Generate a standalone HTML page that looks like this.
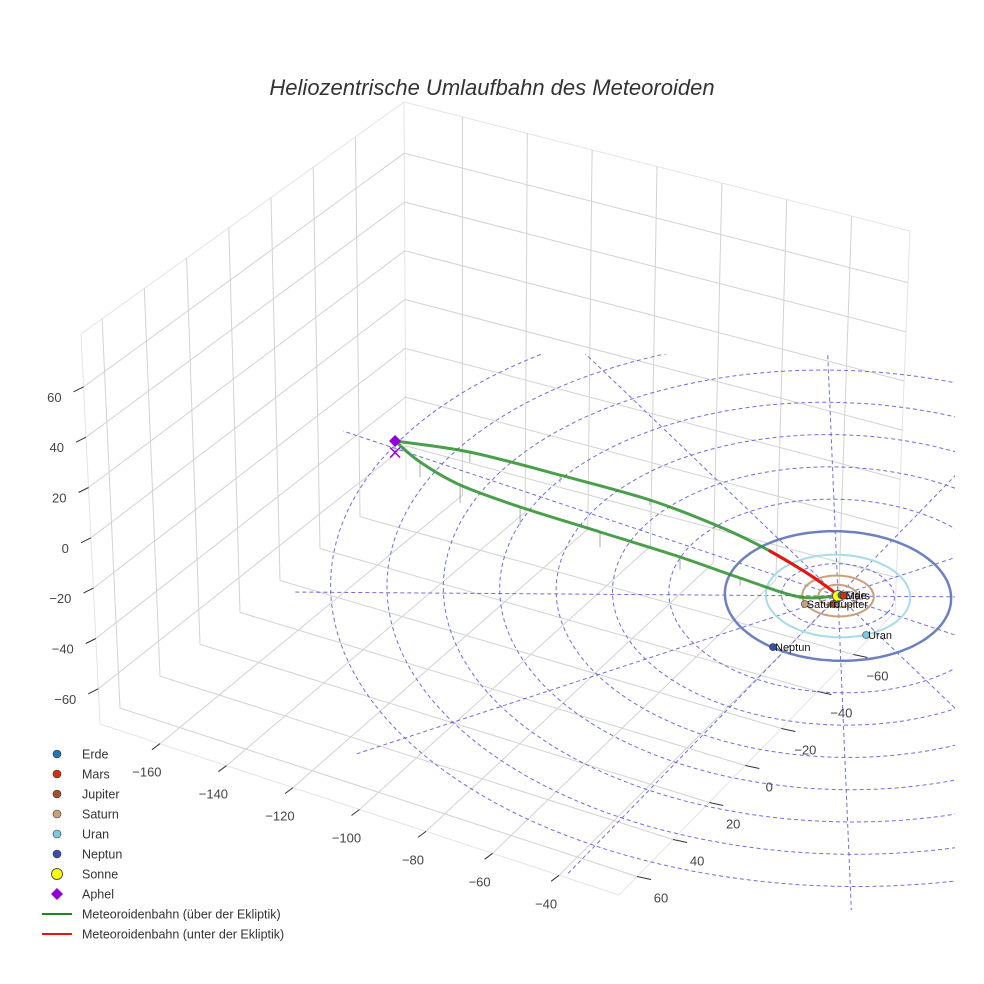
<!DOCTYPE html>
<html><head><meta charset="utf-8"><style>
body{margin:0;background:#fff}
svg{display:block;font-family:"Liberation Sans",Arial,sans-serif}
</style></head><body>
<svg id="chart" width="984" height="984" viewBox="0 0 984 984" xmlns="http://www.w3.org/2000/svg">
<rect width="984" height="984" fill="#fff"/>
<defs><clipPath id="ecl"><rect x="295" y="354" width="660" height="556"/></clipPath></defs>
<text x="492" y="95" text-anchor="middle" font-size="22" font-style="italic" fill="#333">Heliozentrische Umlaufbahn des Meteoroiden</text>
<g id="grid"></g>
<g id="axes"></g>
<g id="ecliptic" clip-path="url(#ecl)"></g>
<g id="data"></g>
<g id="legend"></g>
</svg>
<script>
// ---- data ----
const xTicks = [-160,-140,-120,-100,-80,-60,-40];
const yTicks = [-60,-40,-20,0,20,40,60];
const zTicks = [-60,-40,-20,0,20,40,60];
const xRange = [-178,-22];
const yRange = [-83,70];
const zRange = [-74,81];

const xUpper = [-133.3,-114.0,-88.8,-63.3,-41.8,-25.6,-11.7,0.5];
const yUpper = [1.7,-4.5,-8.4,-11.5,-11.1,-9.1,-5.8,-0.5];
const zUpper = [4.5,4,3,2,1,0,-1,-0.5];
const xLower = [-133.3,-122.1,-107.2,-88.6,-65.3,-42.0,-24.7,-7.9,0.5];
const yLower = [1.7,8.4,13.4,14.2,12.5,10.8,9.1,6.6,-0.5];
const zLower = [4.5,6,7,7,6,5,3,1,0.2];

const planetNames = ["Erde","Mars","Jupiter","Saturn","Uran","Neptun"];
const planetX = [0.6,1.2,0.6,-5.8,15.1,-3.5];
const planetY = [-0.8,-0.9,3.9,7.8,12.1,29.7];
const planetColors = ["#1f77b4","#cc3311","#a0522d","#c8a07a","#7ec8e3","#3a4fa8"];
const ringRadii = [5.2,9.5,19.2,30.1];
const ringColors = ["#c8a07a","#c8a07a","#a8dbe8","#6d80c0"];
const ringWidths = [2,2,2,2.5];
const gridRadii = [15,30,45,60,75,90,105,120,135];
const radialAngles = [0,30,60,90,120,150];
const aphel = [-133.3,1.7,4.5];

const NS="http://www.w3.org/2000/svg";
function mk(tag,attrs,parent){const e=document.createElementNS(NS,tag);for(const k in attrs)e.setAttribute(k,attrs[k]);parent.appendChild(e);return e;}

// ---- box projection (trilinear between screen corners) ----
const C = {F:{a:[406,480],b:[100,724],c:[895,612],d:[619,895]}, T:{a:[404,102],b:[81,334],c:[910,231],d:[610,492]}};
function lerp(p,q,t){return [p[0]+(q[0]-p[0])*t,p[1]+(q[1]-p[1])*t];}
function boxP(x,y,z){
  const u=(x-xRange[0])/(xRange[1]-xRange[0]), v=(y-yRange[0])/(yRange[1]-yRange[0]), w=(z-zRange[0])/(zRange[1]-zRange[0]);
  function layer(L){const l=lerp(L.a,L.b,v), r=lerp(L.c,L.d,v);return lerp(l,r,u);}
  return lerp(layer(C.F),layer(C.T),w);
}
// ---- data projection (local affine around the sun) ----
function P(x,y,z){return [838+3.3*x-1.8*y, 596+1.1*x+1.85*y-2.55*z];}

const grid=document.getElementById('grid'), axes=document.getElementById('axes'), ecl=document.getElementById('ecliptic'), dataG=document.getElementById('data'), leg=document.getElementById('legend');
function seg(p,q,parent,stroke,w,extra){const e=mk('line',Object.assign({x1:p[0].toFixed(1),y1:p[1].toFixed(1),x2:q[0].toFixed(1),y2:q[1].toFixed(1),stroke:stroke,'stroke-width':w},extra||{}),parent);return e;}

// box edges
[[[xRange[0],yRange[1],zRange[1]],[xRange[0],yRange[0],zRange[1]]],[[xRange[0],yRange[0],zRange[1]],[xRange[1],yRange[0],zRange[1]]],
 [[xRange[0],yRange[1],zRange[0]],[xRange[0],yRange[1],zRange[1]]],[[xRange[0],yRange[0],zRange[0]],[xRange[0],yRange[0],zRange[1]]],
 [[xRange[1],yRange[0],zRange[0]],[xRange[1],yRange[0],zRange[1]]],[[xRange[0],yRange[1],zRange[0]],[xRange[1],yRange[1],zRange[0]]],
 [[xRange[1],yRange[1],zRange[0]],[xRange[1],yRange[0],zRange[0]]]].forEach(e=>{
  const l=seg(boxP(...e[0]),boxP(...e[1]),grid,'#e4e4e4',1);
  
  
});
const gc='#d2d2d2';
xTicks.forEach(x=>{
  let l=seg(boxP(x,yRange[0],zRange[0]),boxP(x,yRange[1],zRange[0]),grid,gc,1);
  
  
  l=seg(boxP(x,yRange[0],zRange[0]),boxP(x,yRange[0],zRange[1]),grid,gc,1);
  
  
});
yTicks.forEach(y=>{
  let l=seg(boxP(xRange[0],y,zRange[0]),boxP(xRange[1],y,zRange[0]),grid,gc,1);
  
  
  l=seg(boxP(xRange[0],y,zRange[0]),boxP(xRange[0],y,zRange[1]),grid,gc,1);
  
  
});
zTicks.forEach(z=>{
  let l=seg(boxP(xRange[0],yRange[1],z),boxP(xRange[0],yRange[0],z),grid,gc,1);
  
  
  l=seg(boxP(xRange[0],yRange[0],z),boxP(xRange[1],yRange[0],z),grid,gc,1);
  
  
});
function label(p,txt,anchor,name){const t=mk('text',{x:p[0].toFixed(1),y:p[1].toFixed(1),'text-anchor':anchor,'font-size':13,fill:'#444'},axes);t.textContent=txt;
  
  }
function fmt(v){return v<0?'\u2212'+Math.abs(v):String(v);}
xTicks.forEach(x=>{const p=boxP(x,yRange[1],zRange[0]);
  const l=seg(p,[p[0]-8,p[1]+6],axes,'#333',1);
  
  
  label([p[0]-13,p[1]+33],fmt(x),'middle','x-tick-label');});
yTicks.forEach(y=>{const p=boxP(xRange[1],y,zRange[0]);
  const l=seg(p,[p[0]+14,p[1]+3],axes,'#333',1);
  
  
  label([p[0]+24,p[1]+26],fmt(y),'middle','y-tick-label');});
zTicks.forEach(z=>{const p=boxP(xRange[0],yRange[1],z);
  const l=seg(p,[p[0]-10,p[1]+5],axes,'#333',1);
  
  
  label([p[0]-22,p[1]+15],fmt(z),'end','z-tick-label');});

// ecliptic grid
function circlePts(r){const pts=[];for(let i=0;i<=180;i++){const a=i/180*2*Math.PI;pts.push(P(r*Math.cos(a),r*Math.sin(a),0));}return pts.map(p=>p[0].toFixed(1)+','+p[1].toFixed(1)).join(' ');}
gridRadii.forEach(r=>{const c=mk('polyline',{points:circlePts(r),fill:'none',stroke:'#5555e0','stroke-width':1,'stroke-dasharray':'4,3',opacity:0.85},ecl);
  
  });
radialAngles.forEach(a=>{const t=a*Math.PI/180,R=150;
  const l=seg(P(R*Math.cos(t),R*Math.sin(t),0),P(-R*Math.cos(t),-R*Math.sin(t),0),ecl,'#5555e0',1,{'stroke-dasharray':'4,3',opacity:0.85});
  
  });
ringRadii.forEach((r,i)=>{const c=mk('polyline',{points:circlePts(r),fill:'none',stroke:ringColors[i],'stroke-width':ringWidths[i]},ecl);
  
  });

// drop lines
function drops(xs,ys,zs){xs.forEach((x,i)=>{if(zs[i]>0.5){const l=seg(P(x,ys[i],zs[i]),P(x,ys[i],0),dataG,'#aaa',1);
  
  }});}
drops(xUpper,yUpper,zUpper);drops(xLower,yLower,zLower);

// orbit
function cr(pts){let d='M'+pts[0][0].toFixed(1)+','+pts[0][1].toFixed(1);
  for(let i=0;i<pts.length-1;i++){const p0=pts[Math.max(0,i-1)],p1=pts[i],p2=pts[i+1],p3=pts[Math.min(pts.length-1,i+2)];
    d+=' C'+(p1[0]+(p2[0]-p0[0])/6).toFixed(1)+','+(p1[1]+(p2[1]-p0[1])/6).toFixed(1)+' '+(p2[0]-(p3[0]-p1[0])/6).toFixed(1)+','+(p2[1]-(p3[1]-p1[1])/6).toFixed(1)+' '+p2[0].toFixed(1)+','+p2[1].toFixed(1);}
  return d;}
function branch(xs,ys,zs,name){const pts=xs.map((x,i)=>P(x,ys[i],zs[i]));
  const g=mk('path',{d:cr(pts),fill:'none',stroke:'#2a8f2a','stroke-width':3,opacity:0.85,'stroke-linecap':'round'},dataG);
  
  
  const s=zs.findIndex((z,i)=>i<zs.length-1&&zs[i+1]<0);
  if(s>=0){const sub=pts.slice(s);const r=mk('path',{d:cr(sub),fill:'none',stroke:'#ee1111','stroke-width':3,'stroke-linecap':'round'},dataG);
    
    }}
branch(xUpper,yUpper,zUpper,'orbit-upper-branch');
branch(xLower,yLower,zLower,'orbit-lower-branch');

// aphelion
const ap=P(aphel[0],aphel[1],aphel[2]), apx=P(aphel[0],aphel[1],0);
let ax=mk('path',{d:`M${apx[0]-5},${apx[1]-5}L${apx[0]+5},${apx[1]+5}M${apx[0]-5},${apx[1]+5}L${apx[0]+5},${apx[1]-5}`,stroke:'#9400d3','stroke-width':1.5},dataG);


let ad=mk('path',{d:`M${ap[0]},${ap[1]-6}L${ap[0]+6},${ap[1]}L${ap[0]},${ap[1]+6}L${ap[0]-6},${ap[1]}Z`,fill:'#9400d3'},dataG);



// sun & planets
const sp=P(0,0,0);
let sun=mk('circle',{cx:sp[0],cy:sp[1],r:5.5,fill:'#ffff00',stroke:'#555','stroke-width':1},dataG);


planetNames.forEach((n,i)=>{const p=P(planetX[i],planetY[i],0);
  const c=mk('circle',{cx:p[0].toFixed(1),cy:p[1].toFixed(1),r:3.5,fill:planetColors[i],stroke:'#333','stroke-width':0.6},dataG);
  
  
  const t=mk('text',{x:(p[0]+2).toFixed(1),y:(p[1]+4).toFixed(1),'font-size':11,fill:'#111'},dataG);t.textContent=n;
  
  });

// legend
const legNames=["Erde","Mars","Jupiter","Saturn","Uran","Neptun","Sonne","Aphel","Meteoroidenbahn (über der Ekliptik)","Meteoroidenbahn (unter der Ekliptik)"];
legNames.forEach((n,i)=>{const y=754+i*20;
  const g=mk('g',{},leg);
  
  
  if(i<6) mk('circle',{cx:57,cy:y,r:4,fill:planetColors[i],stroke:'#333','stroke-width':0.6},g);
  else if(i===6) mk('circle',{cx:57,cy:y,r:5.5,fill:'#ffff00',stroke:'#555','stroke-width':1},g);
  else if(i===7) mk('path',{d:`M57,${y-6}L63,${y}L57,${y+6}L51,${y}Z`,fill:'#9400d3'},g);
  else mk('line',{x1:42,y1:y,x2:72,y2:y,stroke:i===8?'#1a8a1a':'#ee1111','stroke-width':2},g);
  const t=mk('text',{x:82,y:y+4.5,'font-size':12.5,fill:'#333'},g);t.textContent=n;});
</script>
</body></html>
